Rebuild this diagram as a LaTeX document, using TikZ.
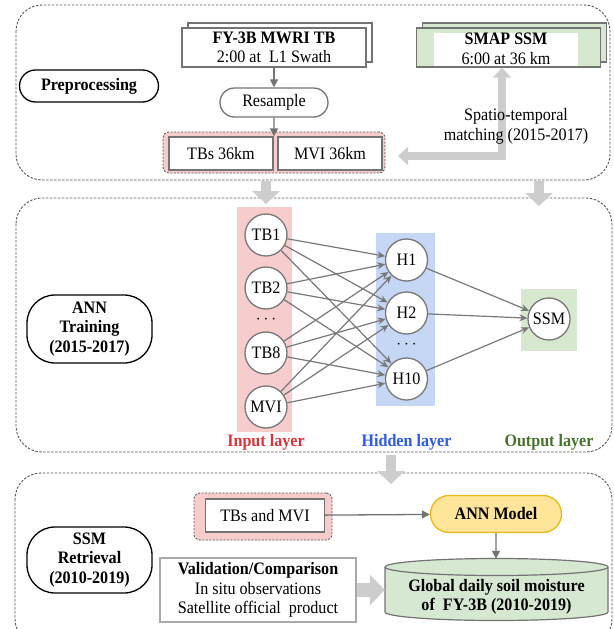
\documentclass[tikz,border=0pt]{standalone}
\usepackage{fontspec}
\setmainfont[FakeStretch=0.92]{Liberation Serif}
\usetikzlibrary{arrows.meta,shapes.misc}
\newcommand{\fsz}{\fontsize{17.5}{19.5}\selectfont}
\definecolor{panelgray}{RGB}{85,85,85}
\definecolor{boxgray}{RGB}{115,115,115}
\definecolor{linkgray}{RGB}{120,120,120}
\definecolor{blockgray}{RGB}{205,205,205}
\definecolor{valgray}{RGB}{170,170,170}
\definecolor{inpink}{RGB}{246,204,204}
\definecolor{hidblue}{RGB}{197,215,245}
\definecolor{outgreen}{RGB}{214,232,206}
\definecolor{dbgreen}{RGB}{214,232,210}
\definecolor{annyellow}{RGB}{255,229,153}
\definecolor{anngold}{RGB}{236,184,20}
\definecolor{inred}{RGB}{220,50,60}
\definecolor{hidtext}{RGB}{45,90,235}
\definecolor{outtext}{RGB}{72,115,45}

\begin{document}
\begin{tikzpicture}[x=1pt,y=-1pt,font=\fsz,
        panel/.style={draw=panelgray,dash pattern=on 2.5pt off 1.5pt,line width=0.9pt,rounded corners=26pt},
        stage/.style={draw=black,line width=1.3pt,rounded corners=16pt,align=center,inner sep=0pt,font=\fsz\bfseries},
        srcbox/.style={draw=boxgray,fill=white,line width=1.4pt,minimum width=184pt,minimum height=39pt,inner sep=0pt,align=center},
        databox/.style={draw=boxgray,fill=white,line width=1.4pt,minimum height=33pt,inner sep=0pt},
        group/.style={draw=panelgray,fill=inpink,dash pattern=on 2pt off 1.5pt,line width=0.8pt,rounded corners=6pt},
        neuron/.style={circle,draw=linkgray,fill=white,line width=1.3pt,minimum size=42pt,inner sep=0pt},
        flow/.style={draw=boxgray,line width=1.3pt,-{Triangle[width=8pt,length=8pt]}},
        link/.style={draw=linkgray,line width=1.2pt,-{Stealth[width=7pt,length=8pt]}},
        blockarrow/.style={draw=blockgray,line width=10pt,-{Triangle[width=27pt,length=13pt]}},
        matcharrow/.style={draw=blockgray,line width=8pt,{Triangle[width=18pt,length=10pt]}-{Triangle[width=18pt,length=10pt]}},
        layerlabel/.style={font=\fsz\bfseries}]
        \clip (0,0) rectangle (613,629);

        \draw[panel] (16,5) rectangle (610,180);
        \draw[panel] (16,198) rectangle (612,452);
        \draw[panel] (15,473) rectangle (612,645);

        \node[stage,minimum width=139pt,minimum height=32pt] (prep) at (89,86) {Preprocessing};
        \node[stage,rounded corners=28pt,minimum width=125pt,minimum height=68pt] (train) at (89.5,329) {ANN\\Training\\(2015-2017)};
        \node[stage,rounded corners=28pt,minimum width=125pt,minimum height=66pt] (retr) at (89.5,560) {SSM\\Retrieval\\(2010-2019)};

        \node[srcbox] (fyback) at (280,42.5) {};
        \node[srcbox] (fy) at (274,47.5) {\textbf{FY-3B MWRI TB}\\2:00 at\ \ L1 Swath};
        \node[srcbox,fill=outgreen] (smapback) at (514.5,42.5) {};
        \node[srcbox,fill=outgreen] (smap) at (508.5,47.5) {};
        \node[fill=white,minimum width=144pt,minimum height=33pt,inner sep=0pt,align=center] (smaptxt) at (506,49) {\textbf{SMAP SSM}\\6:00 at 36 km};

        \node[rounded rectangle,draw=boxgray,line width=1.3pt,minimum width=108pt,minimum height=29pt,inner sep=0pt] (resample) at (274,102.5) {Resample};
        \node[group,minimum width=222pt,minimum height=41pt] (prepgrp) at (274,152.5) {};
        \node[databox,minimum width=104pt] (tbs) at (221,153.5) {TBs 36km};
        \node[databox,minimum width=104pt] (mvi) at (330,153.5) {MVI 36km};

        \path[draw,flow] (fy) -- (resample);
        \path[draw,flow] (resample) -- (resample |- tbs.north);

        \coordinate (matchcorner) at (502,156);
        \coordinate (matchend) at (398,156);
        \path[draw,matcharrow] (smap.south -| matchcorner) -- (matchcorner) -- (matchend);
        \node[align=center] (matchlbl) at (516,126.5) {Spatio-temporal\\matching (2015-2017)};

        \coordinate (d1a) at (266,181);
        \coordinate (d1b) at (266,204);
        \coordinate (d2a) at (539,181);
        \coordinate (d2b) at (539,206);
        \coordinate (d3a) at (391,455);
        \coordinate (d3b) at (391,484);
        \path[draw,blockarrow] (d1a) -- (d1b);
        \path[draw,blockarrow] (d2a) -- (d2b);
        \path[draw,blockarrow] (d3a) -- (d3b);

        \fill[inpink] (236.5,207) rectangle (292,432);
        \fill[hidblue] (375.5,233) rectangle (434.5,406);
        \fill[outgreen] (521,289) rectangle (577,351);

        \node[neuron] (tb1) at (266,235) {TB1};
        \node[neuron] (tb2) at (266,288) {TB2};
        \node (indots) at (266,320) {$\cdots$};
        \node[neuron] (tb8) at (266,353) {TB8};
        \node[neuron] (mvin) at (266,407) {MVI};

        \node[neuron] (h1) at (406.5,260) {H1};
        \node[neuron] (h2) at (406.5,313) {H2};
        \node (hdots) at (406.5,345) {$\cdots$};
        \node[neuron] (h10) at (406.5,379) {H10};

        \node[neuron] (ssm) at (549,319) {SSM};

        \node[layerlabel,text=inred] (inlbl) at (266,442) {Input layer};
        \node[layerlabel,text=hidtext] (hidlbl) at (406.5,442) {Hidden layer};
        \node[layerlabel,text=outtext] (outlbl) at (549,442) {Output layer};

        \path[draw,link] (tb1) -- (h1);
        \path[draw,link] (tb1) -- (h2);
        \path[draw,link] (tb1) -- (h10);
        \path[draw,link] (tb2) -- (h1);
        \path[draw,link] (tb2) -- (h2);
        \path[draw,link] (tb2) -- (h10);
        \path[draw,link] (tb8) -- (h1);
        \path[draw,link] (tb8) -- (h2);
        \path[draw,link] (tb8) -- (h10);
        \path[draw,link] (mvin) -- (h1);
        \path[draw,link] (mvin) -- (h2);
        \path[draw,link] (mvin) -- (h10);
        \path[draw,link] (h1) -- (ssm);
        \path[draw,link] (h2) -- (ssm);
        \path[draw,link] (h10) -- (ssm);

        \node[group,minimum width=138pt,minimum height=47pt] (rungrp) at (263,516.5) {};
        \node[databox,minimum width=119pt] (runin) at (265,515.5) {TBs and MVI};
        \node[rounded rectangle,draw=anngold,fill=annyellow,line width=1.3pt,minimum width=131pt,minimum height=37pt,inner sep=0pt,font=\fsz\bfseries] (model) at (496,514) {ANN Model};
        \node[draw=valgray,fill=white,line width=1.3pt,minimum width=196pt,minimum height=64pt,inner sep=0pt,align=center] (val) at (258,590) {\textbf{Validation/Comparison}\\In situ observations\\Satellite official\ \ product};

        \path[draw=boxgray,fill=dbgreen,line width=1.2pt] (385,567) -- (385,612) arc[start angle=180,end angle=360,x radius=111.5pt,y radius=8.5pt] -- (608,567) arc[start angle=0,end angle=180,x radius=111.5pt,y radius=8.5pt] -- cycle;
        \draw[boxgray,line width=1.2pt] (608,567) arc[start angle=360,end angle=180,x radius=111.5pt,y radius=8.5pt];
        \node[minimum width=223pt,minimum height=62pt] (db) at (496.5,590) {};
        \node[align=center,font=\fsz\bfseries] (dbtxt) at (496.5,597) {Global daily soil moisture\\of\ \ FY-3B (2010-2019)};

        \path[draw,flow] (runin) -- (model);
        \path[draw,flow] (model) -- (model |- db.north);
        \path[draw,draw=blockgray,line width=14pt,-{Triangle[width=30pt,length=15pt]}] (val) -- (db);
    \end{tikzpicture}
\end{document}
